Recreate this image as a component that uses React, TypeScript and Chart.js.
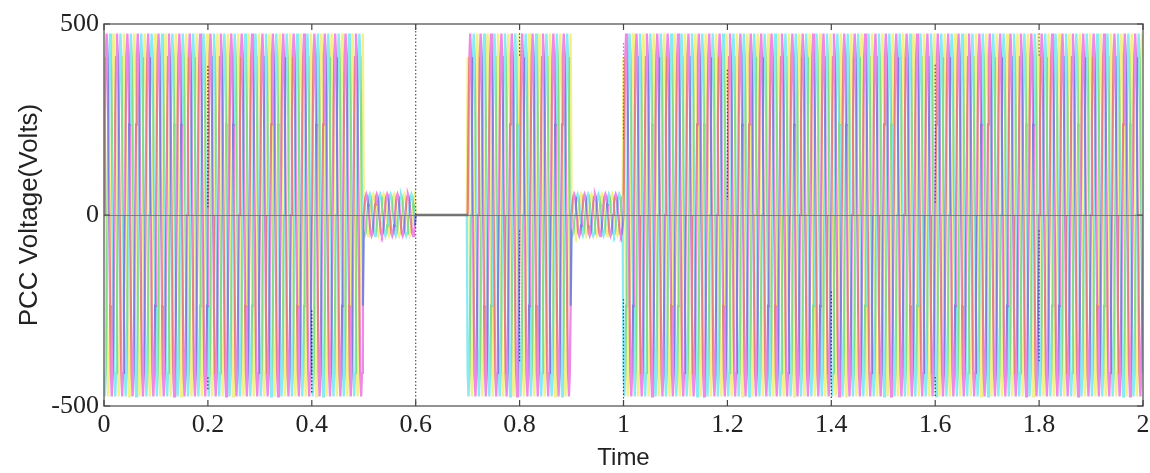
import React, { useEffect, useRef } from "react";
import { Chart, registerables } from "chart.js";

Chart.register(...registerables);

// ---- Data ----
// x-axis ticks (Time)
const X_TICKS = [0, 0.2, 0.4, 0.6, 0.8, 1, 1.2, 1.4, 1.6, 1.8, 2];
const Y_TICKS = [-500, 0, 500];
const X_MIN = 0;
const X_MAX = 2;
const Y_MIN = -500;
const Y_MAX = 500;

// Supply frequency (cycles per second) read from the bumps of the sag segments
const FREQUENCY = 50;
// One cycle of the waveform, normalised (12 samples)
const CYCLE_SHAPE = [0, 0.5, 0.87, 1, 0.87, 0.5, 0, -0.5, -0.87, -1, -0.87, -0.5];
// Phase shift of each phase, in samples of CYCLE_SHAPE (120 degrees apart)
const PHASE_SHIFT = [0, 4, 8];
const PHASE_NAMES = ["Va", "Vb", "Vc"];

// Envelope of the PCC voltage: segments and their peak amplitudes (Volts)
const SEGMENT_START = [0, 0.5, 0.6, 0.7, 0.9, 1.0];
const SEGMENT_END = [0.5, 0.6, 0.7, 0.9, 1.0, 2.0];
const SEGMENT_AMPLITUDE = [475, 55, 0, 475, 55, 475];

// Dotted sample markers seen in the picture (x, from, to)
const MARKER_X = [0.2, 0.2, 0.4, 0.6, 0.8, 0.8, 1.0, 1.0, 1.2, 1.4, 1.6, 1.6, 1.8, 1.8];
const MARKER_FROM = [390, -425, -250, 500, 476, -40, 450, -220, 380, -200, 393, -424, 476, -40];
const MARKER_TO = [20, -460, -470, -500, 413, -387, 196, -500, 40, -484, 30, -476, 413, -387];

// ---- Styles ----
const PHASE_COLORS = ["#ee8ae6", "#f4f08a", "#8aeaf4"];
const MARKER_COLORS = ["#333333", "#333333", "#333333", "#555555", "#555555", "#9a3fb0", "#c88a40", "#6a3fb0", "#6a3fb0", "#444444", "#6a3fb0", "#444444", "#777777", "#6a3fb0"];

function amplitudeAt(t: number): number {
  for (let k = 0; k < SEGMENT_START.length; k++) {
    if (t >= SEGMENT_START[k] && t < SEGMENT_END[k]) return SEGMENT_AMPLITUDE[k];
  }
  return SEGMENT_AMPLITUDE[SEGMENT_AMPLITUDE.length - 1];
}

function buildPhase(shift: number) {
  const n = CYCLE_SHAPE.length;
  const dt = 1 / (FREQUENCY * n);
  const total = Math.round((X_MAX - X_MIN) / dt);
  const pts: { x: number; y: number }[] = [];
  for (let i = 0; i <= total; i++) {
    const t = X_MIN + i * dt;
    pts.push({ x: t, y: amplitudeAt(t) * CYCLE_SHAPE[(i + shift) % n] });
  }
  return pts;
}

const blendPlugin = {
  id: "blendMultiply",
  beforeDatasetsDraw(chart: any) {
    chart.ctx.save();
    chart.ctx.globalCompositeOperation = "multiply";
  },
  afterDatasetsDraw(chart: any) {
    chart.ctx.restore();
    const { ctx, chartArea } = chart;
    const y0 = chart.scales.y.getPixelForValue(0);
    ctx.save();
    ctx.strokeStyle = "rgba(110,110,110,0.8)";
    ctx.lineWidth = 1;
    ctx.beginPath();
    ctx.moveTo(chartArea.left, Math.round(y0) + 0.5);
    ctx.lineTo(chartArea.right, Math.round(y0) + 0.5);
    ctx.stroke();
    ctx.restore();
  },
};

const framePlugin = {
  id: "matlabFrame",
  afterDraw(chart: any) {
    const { ctx, chartArea } = chart;
    const { left, right, top, bottom } = chartArea;
    ctx.save();
    ctx.strokeStyle = "#6e6e6e";
    ctx.lineWidth = 1.5;
    ctx.strokeRect(left, top, right - left, bottom - top);
    ctx.lineWidth = 1.2;
    ctx.strokeStyle = "#444";
    const tl = 6;
    ctx.beginPath();
    X_TICKS.forEach((v) => {
      const x = chart.scales.x.getPixelForValue(v);
      ctx.moveTo(x, bottom);
      ctx.lineTo(x, bottom - tl);
      ctx.moveTo(x, top);
      ctx.lineTo(x, top + tl);
    });
    Y_TICKS.forEach((v) => {
      const y = chart.scales.y.getPixelForValue(v);
      ctx.moveTo(left, y);
      ctx.lineTo(left + tl, y);
      ctx.moveTo(right, y);
      ctx.lineTo(right - tl, y);
    });
    ctx.stroke();
    ctx.restore();
  },
};

export default function App() {
  const ref = useRef<HTMLCanvasElement | null>(null);

  useEffect(() => {
    document.body.style.margin = "0";
    const canvas = ref.current;
    if (!canvas) return;

    const phaseSets = PHASE_SHIFT.map((s, i) => ({
      label: PHASE_NAMES[i],
      data: buildPhase(s),
      borderColor: PHASE_COLORS[i],
      borderWidth: 2.3,
      pointRadius: 0,
      tension: 0,
      fill: false,
    }));

    const markerSets = MARKER_X.map((x, i) => ({
      label: "m" + i,
      data: [
        { x, y: MARKER_FROM[i] },
        { x, y: MARKER_TO[i] },
      ],
      borderColor: MARKER_COLORS[i],
      borderWidth: 1.2,
      borderDash: [1.5, 2],
      pointRadius: 0,
      fill: false,
    }));

    const chart = new Chart(canvas, {
      type: "line",
      data: { datasets: [...phaseSets, ...markerSets] as any },
      options: {
        animation: false,
        responsive: false,
        parsing: false,
        normalized: true,
        layout: { padding: { top: 24, right: 0, left: 0, bottom: 0 } },
        plugins: { legend: { display: false }, tooltip: { enabled: false } },
        scales: {
          x: {
            type: "linear",
            min: X_MIN,
            max: X_MAX,
            afterFit: (s: any) => {
              s.height = 67;
              s.paddingRight = 7;
              s.paddingLeft = 0;
            },
            afterBuildTicks: (s: any) => {
              s.ticks = X_TICKS.map((v) => ({ value: v }));
            },
            grid: { display: false, drawTicks: false },
            border: { display: false },
            ticks: {
              padding: 4,
              color: "#222",
              font: { family: "'Liberation Serif', 'Times New Roman', serif", size: 26 },
              maxRotation: 0,
              callback: (v: any) => String(Math.round(Number(v) * 10) / 10),
            },
            title: {
              display: true,
              text: "Time",
              color: "#222",
              font: { family: "'Liberation Sans', Arial, sans-serif", size: 24 },
              padding: { top: 0, bottom: 0 },
            },
          },
          y: {
            type: "linear",
            min: Y_MIN,
            max: Y_MAX,
            afterFit: (s: any) => {
              s.width = 104;
            },
            afterBuildTicks: (s: any) => {
              s.ticks = Y_TICKS.map((v) => ({ value: v }));
            },
            grid: { display: false, drawTicks: false },
            border: { display: false },
            ticks: {
              padding: 5,
              color: "#222",
              font: { family: "'Liberation Serif', 'Times New Roman', serif", size: 26 },
              callback: (v: any) => String(v),
            },
            title: {
              display: true,
              text: "PCC Voltage(Volts)",
              color: "#222",
              font: { family: "'Liberation Sans', Arial, sans-serif", size: 26 },
              padding: { top: 14, bottom: 0 },
            },
          },
        },
      },
      plugins: [blendPlugin, framePlugin],
    });

    return () => chart.destroy();
  }, []);

  return (
    <div style={{ width: 1150, height: 473, background: "#fff" }}>
      <canvas ref={ref} width={1150} height={473} />
    </div>
  );
}
